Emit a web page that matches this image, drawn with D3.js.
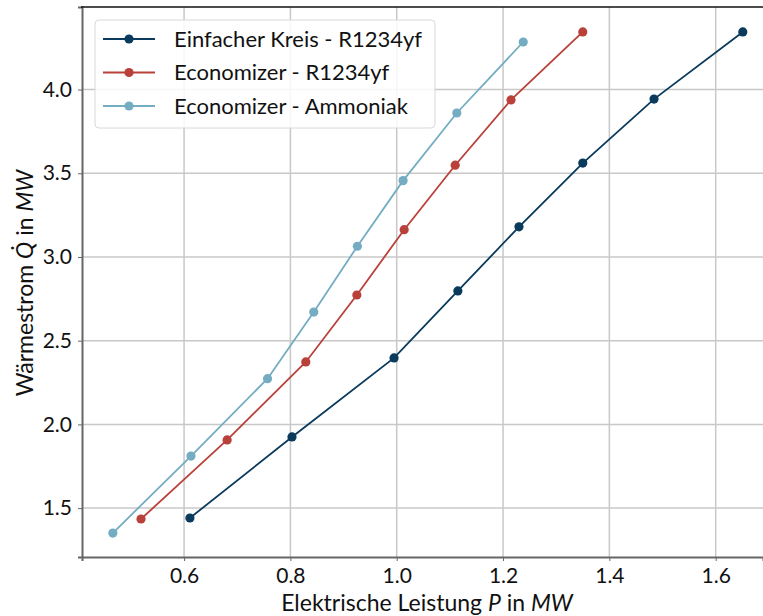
<!DOCTYPE html>
<html>
<head>
<meta charset="utf-8">
<script src="https://cdn.jsdelivr.net/npm/d3@7"></script>
<style>
  body { margin: 0; background: #fff; }
  svg { font-family: Lato, "DejaVu Sans", sans-serif; }
  .grid line { stroke: #c8c8c8; stroke-width: 1.5; }
</style>
</head>
<body>
<div id="chart"></div>
<script>
// Series data (P in MW, Q in MW)
const einfachP = [0.611, 0.803, 0.995, 1.115, 1.230, 1.350, 1.484, 1.651];
const einfachQ = [1.441, 1.925, 2.397, 2.797, 3.180, 3.561, 3.943, 4.344];

const ecoR1234P = [0.519, 0.681, 0.829, 0.925, 1.014, 1.110, 1.215, 1.350];
const ecoR1234Q = [1.435, 1.907, 2.373, 2.773, 3.163, 3.548, 3.938, 4.344];

const ecoNH3P = [0.466, 0.613, 0.757, 0.844, 0.926, 1.012, 1.113, 1.238];
const ecoNH3Q = [1.351, 1.811, 2.273, 2.671, 3.064, 3.456, 3.860, 4.284];

const seriesNames = ["Einfacher Kreis - R1234yf", "Economizer - R1234yf", "Economizer - Ammoniak"];
const seriesColors = ["#0b3b5c", "#b9413a", "#74adc1"];

const xTicks = [0.6, 0.8, 1.0, 1.2, 1.4, 1.6];
const yTicks = [1.5, 2.0, 2.5, 3.0, 3.5, 4.0];

const series = [
  { name: seriesNames[0], color: seriesColors[0], pts: einfachP.map((p, i) => [p, einfachQ[i]]) },
  { name: seriesNames[1], color: seriesColors[1], pts: ecoR1234P.map((p, i) => [p, ecoR1234Q[i]]) },
  { name: seriesNames[2], color: seriesColors[2], pts: ecoNH3P.map((p, i) => [p, ecoNH3Q[i]]) }
];

const width = 763, height = 616;
const margin = { top: 7, right: 0, bottom: 59, left: 82 };

const svg = d3.select("#chart").append("svg")
  .attr("width", width)
  .attr("height", height);

// Scales
const x = d3.scaleLinear().domain([0.408, 1.689]).range([margin.left, width - margin.right]);
const y = d3.scaleLinear().domain([1.208, 4.493]).range([height - margin.bottom, margin.top]);

// Gridlines
const grid = svg.append("g").attr("class", "grid");
grid.selectAll(".gx").data(xTicks).join("line")
  .attr("x1", d => x(d)).attr("x2", d => x(d))
  .attr("y1", margin.top).attr("y2", height - margin.bottom);
grid.selectAll(".gy").data(yTicks).join("line")
  .attr("x1", margin.left).attr("x2", width - margin.right)
  .attr("y1", d => y(d)).attr("y2", d => y(d));

// Axes
const xAxis = svg.append("g")
  .attr("transform", `translate(0,${height - margin.bottom})`)
  .call(d3.axisBottom(x).tickValues(xTicks).tickFormat(d3.format(".1f")).tickSize(4).tickPadding(5));
const yAxis = svg.append("g")
  .attr("transform", `translate(${margin.left},0)`)
  .call(d3.axisLeft(y).tickValues(yTicks).tickFormat(d3.format(".1f")).tickSize(4).tickPadding(6));

[xAxis, yAxis].forEach(a => {
  a.select(".domain").attr("stroke", "#666").attr("stroke-width", 2);
  a.selectAll(".tick line").attr("stroke", "#666");
  a.selectAll(".tick text").attr("fill", "#111").style("font-size", "21px").style("font-family", "Lato");
});
xAxis.selectAll(".tick text").attr("dy", "0.82em");

// top spine
svg.append("line")
  .attr("x1", margin.left - 1).attr("x2", width)
  .attr("y1", margin.top).attr("y2", margin.top)
  .attr("stroke", "#111").attr("stroke-width", 1.5);

// Lines and markers
const line = d3.line().x(d => x(d[0])).y(d => y(d[1]));
series.forEach(s => {
  svg.append("path")
    .datum(s.pts)
    .attr("fill", "none")
    .attr("stroke", s.color)
    .attr("stroke-width", 1.8)
    .attr("d", line);
  svg.selectAll(null).data(s.pts).join("circle")
    .attr("cx", d => x(d[0]))
    .attr("cy", d => y(d[1]))
    .attr("r", 4.6)
    .attr("fill", s.color);
});

// Legend
const legend = svg.append("g").attr("transform", "translate(95,20)");
legend.append("rect")
  .attr("width", 340).attr("height", 108)
  .attr("rx", 4)
  .attr("fill", "rgba(255,255,255,0.85)")
  .attr("stroke", "#d8d8d8");
series.forEach((s, i) => {
  const ly = 19 + i * 33.5;
  legend.append("line")
    .attr("x1", 8).attr("x2", 60)
    .attr("y1", ly).attr("y2", ly)
    .attr("stroke", s.color).attr("stroke-width", 1.8);
  legend.append("circle")
    .attr("cx", 34).attr("cy", ly).attr("r", 4.6).attr("fill", s.color);
  legend.append("text")
    .attr("x", 79).attr("y", ly)
    .attr("dy", "0.35em")
    .style("font-size", "22px")
    .attr("fill", "#111")
    .text(s.name);
});

// Axis labels
const xl = svg.append("text")
  .attr("x", 427).attr("y", 611)
  .attr("text-anchor", "middle")
  .style("font-size", "23px")
  .attr("fill", "#111");
xl.append("tspan").text("Elektrische Leistung ");
xl.append("tspan").style("font-style", "italic").text("P");
xl.append("tspan").text(" in ");
xl.append("tspan").style("font-style", "italic").text("MW");

const yl = svg.append("text")
  .attr("transform", "translate(33,283) rotate(-90)")
  .attr("text-anchor", "middle")
  .style("font-size", "23px")
  .attr("fill", "#111");
yl.append("tspan").text("Wärmestrom ");
yl.append("tspan").style("font-style", "italic").text("Q\u0307");
yl.append("tspan").text(" in ");
yl.append("tspan").style("font-style", "italic").text("MW");
</script>
</body>
</html>
